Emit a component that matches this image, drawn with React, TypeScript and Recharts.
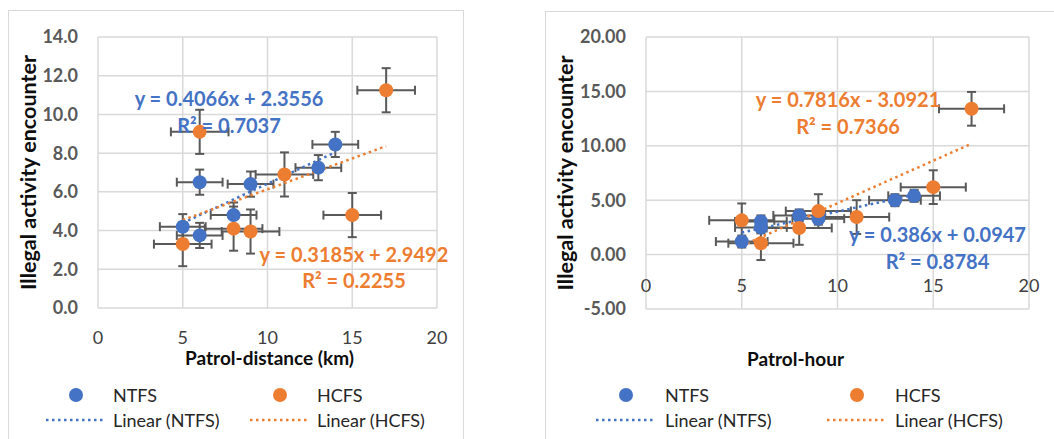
import React from 'react';
import {
  ScatterChart,
  Scatter,
  XAxis,
  YAxis,
  CartesianGrid,
  ErrorBar,
  ReferenceLine,
  ReferenceDot,
} from 'recharts';

const FONT = "Lato, 'Open Sans', 'DejaVu Sans', sans-serif";
const BLUE = '#4472C4';
const ORANGE = '#ED7D31';
const GRID = '#d9d9d9';
const ERR = '#595959';

// ---------- Chart 1: Patrol-distance ----------
const distNtfsX = [5, 6, 6, 8, 9, 13, 14];
const distNtfsY = [4.2, 3.75, 6.5, 4.8, 6.4, 7.25, 8.45];
const distHcfsX = [5, 6, 8, 9, 11, 15, 17];
const distHcfsY = [3.3, 9.1, 4.1, 3.95, 6.9, 4.8, 11.25];
const distNtfsErr = { x: 1.35, y: 0.65 };
const distHcfsErr = { x: 1.7, y: 1.14 };
const distNtfsFit = { slope: 0.4066, intercept: 2.3556, r2: '0.7037', from: 5, to: 14 };
const distHcfsFit = { slope: 0.3185, intercept: 2.9492, r2: '0.2255', from: 5, to: 17 };
const distXTicks = [0, 5, 10, 15, 20];
const distYTicks = [0, 2, 4, 6, 8, 10, 12, 14];

// ---------- Chart 2: Patrol-hour ----------
const hourNtfsX = [5, 6, 6, 8, 9, 13, 14];
const hourNtfsY = [1.2, 3.05, 2.5, 3.6, 3.3, 5.0, 5.4];
const hourHcfsX = [5, 6, 8, 9, 11, 15, 17];
const hourHcfsY = [3.15, 1.05, 2.45, 4.0, 3.45, 6.2, 13.4];
const hourNtfsErr = { x: 1.35, y: 0.55 };
const hourHcfsErr = { x: 1.7, y: 1.55 };
const hourNtfsFit = { slope: 0.386, intercept: 0.0947, r2: '0.8784', from: 5, to: 14 };
const hourHcfsFit = { slope: 0.7816, intercept: -3.0921, r2: '0.7366', from: 5, to: 17 };
const hourXTicks = [0, 5, 10, 15, 20];
const hourYTicks = [-5, 0, 5, 10, 15, 20];

const seriesNames = ['NTFS', 'HCFS'];
const trendNames = ['Linear (NTFS)', 'Linear (HCFS)'];

type Err = { x: number; y: number };
const build = (xs: number[], ys: number[], e: Err) =>
  xs.map((x, i) => ({ x, y: ys[i], ex: e.x, ey: e.y }));

type Fit = { slope: number; intercept: number; r2: string; from: number; to: number };
const segment = (f: Fit) => [
  { x: f.from, y: f.slope * f.from + f.intercept },
  { x: f.to, y: f.slope * f.to + f.intercept },
];
const eqText = (f: Fit, digits: number) => {
  const s = f.slope.toFixed(digits === 3 ? 3 : 4);
  const b = Math.abs(f.intercept).toFixed(4);
  return `y = ${s}x ${f.intercept < 0 ? '-' : '+'} ${b}`;
};

const makeDot = (color: string) => (props: any) =>
  <circle cx={props.cx} cy={props.cy} r={7} fill={color} />;

const makeXTick = (shift: number) => (props: any) => (
  <text
    x={props.x}
    y={props.y + shift}
    textAnchor="middle"
    dominantBaseline="central"
    fill="#404040"
    fontSize={18}
    fontFamily={FONT}
  >
    {props.payload.value}
  </text>
);

const yTickStyle = { fill: '#595959', fontSize: 18, fontWeight: 700, fontFamily: FONT };
const eqStyle = (color: string) => ({
  position: 'center' as const,
  fill: color,
  fontSize: 20,
  fontWeight: 700,
  fontFamily: FONT,
});

function Panel(props: {
  left: number;
  width: number;
  margin: { top: number; right: number; bottom: number; left: number };
  yAxisWidth: number;
  xTicks: number[];
  yTicks: number[];
  yDomain: [number, number];
  yDigits: number;
  xTickShift: number;
  xTitle: string;
  xTitleDx: number;
  ntfs: any[];
  hcfs: any[];
  ntfsFit: Fit;
  hcfsFit: Fit;
  ntfsEqPos: { x: number; y: number; y2: number };
  hcfsEqPos: { x: number; y: number; y2: number };
  ntfsDigits: number;
  hcfsDigits: number;
}) {
  const p = props;
  return (
    <div style={{ position: 'absolute', left: p.left, top: 0 }}>
      <ScatterChart width={p.width} height={439} margin={p.margin}>
        <CartesianGrid stroke={GRID} strokeWidth={1.5} />
        <XAxis
          type="number"
          dataKey="x"
          domain={[0, 20]}
          ticks={p.xTicks}
          axisLine={false}
          tickLine={false}
          tickSize={0}
          tickMargin={0}
          height={30}
          interval={0}
          tick={makeXTick(p.xTickShift)}
          label={{
            value: p.xTitle,
            position: 'bottom',
            offset: 14,
            dx: p.xTitleDx,
            fill: '#0d0d0d',
            fontSize: 19,
            fontWeight: 700,
            fontFamily: FONT,
          }}
        />
        <YAxis
          type="number"
          dataKey="y"
          domain={p.yDomain}
          ticks={p.yTicks}
          axisLine={false}
          tickLine={false}
          tickSize={0}
          tickMargin={20}
          width={p.yAxisWidth}
          interval={0}
          tick={yTickStyle}
          tickFormatter={(v: number) => v.toFixed(p.yDigits)}
          label={{
            value: 'Illegal activity encounter',
            angle: -90,
            position: 'insideLeft',
            offset: 20,
            style: { textAnchor: 'middle' },
            fill: '#0d0d0d',
            fontSize: 21.5,
            fontWeight: 700,
            fontFamily: FONT,
          }}
        />
        <Scatter name={seriesNames[0]} data={p.ntfs} shape={makeDot(BLUE)} isAnimationActive={false}>
          <ErrorBar dataKey="ex" direction="x" width={4.5} stroke={ERR} strokeWidth={2} />
          <ErrorBar dataKey="ey" direction="y" width={4.5} stroke={ERR} strokeWidth={2} />
        </Scatter>
        <Scatter name={seriesNames[1]} data={p.hcfs} shape={makeDot(ORANGE)} isAnimationActive={false}>
          <ErrorBar dataKey="ex" direction="x" width={4.5} stroke={ERR} strokeWidth={2} />
          <ErrorBar dataKey="ey" direction="y" width={4.5} stroke={ERR} strokeWidth={2} />
        </Scatter>
        <ReferenceLine
          segment={segment(p.ntfsFit)}
          stroke={BLUE}
          strokeWidth={2.5}
          strokeDasharray="2.5 3.5"
        />
        <ReferenceLine
          segment={segment(p.hcfsFit)}
          stroke={ORANGE}
          strokeWidth={2.5}
          strokeDasharray="2.5 3.5"
        />
        <ReferenceDot x={p.ntfsEqPos.x} y={p.ntfsEqPos.y} r={0} stroke="none" fill="none"
          label={{ value: eqText(p.ntfsFit, p.ntfsDigits), ...eqStyle(BLUE) }} />
        <ReferenceDot x={p.ntfsEqPos.x} y={p.ntfsEqPos.y2} r={0} stroke="none" fill="none"
          label={{ value: `R² = ${p.ntfsFit.r2}`, ...eqStyle(BLUE) }} />
        <ReferenceDot x={p.hcfsEqPos.x} y={p.hcfsEqPos.y} r={0} stroke="none" fill="none"
          label={{ value: eqText(p.hcfsFit, p.hcfsDigits), ...eqStyle(ORANGE) }} />
        <ReferenceDot x={p.hcfsEqPos.x} y={p.hcfsEqPos.y2} r={0} stroke="none" fill="none"
          label={{ value: `R² = ${p.hcfsFit.r2}`, ...eqStyle(ORANGE) }} />
      </ScatterChart>
    </div>
  );
}

function LegendBlock(props: { sym: [number, number]; txt: [number, number] }) {
  const colors = [BLUE, ORANGE];
  return (
    <>
      {[0, 1].map((i) => (
        <g key={i}>
          <circle cx={props.sym[i]} cy={395} r={7} fill={colors[i]} />
          <text x={props.txt[i]} y={395} dominantBaseline="central" fontSize={18} fontFamily={FONT} fill="#262626">
            {seriesNames[i]}
          </text>
          <line x1={props.sym[i] - 30} x2={props.sym[i] + 30} y1={420} y2={420}
            stroke={colors[i]} strokeWidth={2.5} strokeDasharray="2.5 3.5" />
          <text x={props.txt[i]} y={420} dominantBaseline="central" fontSize={18} fontFamily={FONT} fill="#262626">
            {trendNames[i]}
          </text>
        </g>
      ))}
    </>
  );
}

export default function App() {
  const distNtfs = build(distNtfsX, distNtfsY, distNtfsErr);
  const distHcfs = build(distHcfsX, distHcfsY, distHcfsErr);
  const hourNtfs = build(hourNtfsX, hourNtfsY, hourNtfsErr);
  const hourHcfs = build(hourHcfsX, hourHcfsY, hourHcfsErr);
  return (
    <div style={{ position: 'absolute', left: 0, top: 0, width: 1054, height: 439, overflow: 'hidden', background: '#fff' }}>
      <div style={{ position: 'absolute', left: 8, top: 10, width: 454, height: 460, border: `1.5px solid ${GRID}` }} />
      <div style={{ position: 'absolute', left: 545, top: 11, width: 540, height: 460, border: `1.5px solid ${GRID}` }} />
      <Panel
        left={0}
        width={470}
        margin={{ top: 37, right: 33, bottom: 101, left: 8 }}
        yAxisWidth={90}
        xTicks={distXTicks}
        yTicks={distYTicks}
        yDomain={[0, 14]}
        yDigits={1}
        xTickShift={29}
        xTitle="Patrol-distance  (km)"
        xTitleDx={2}
        ntfs={distNtfs}
        hcfs={distHcfs}
        ntfsFit={distNtfsFit}
        hcfsFit={distHcfsFit}
        ntfsEqPos={{ x: 7.73, y: 10.8, y2: 9.4 }}
        hcfsEqPos={{ x: 15.1, y: 2.74, y2: 1.39 }}
        ntfsDigits={4}
        hcfsDigits={4}
      />
      <Panel
        left={527}
        width={527}
        margin={{ top: 37, right: 25, bottom: 100, left: 18 }}
        yAxisWidth={101}
        xTicks={hourXTicks}
        yTicks={hourYTicks}
        yDomain={[-5, 20]}
        yDigits={2}
        xTickShift={-24}
        xTitle="Patrol-hour"
        xTitleDx={-42}
        ntfs={hourNtfs}
        hcfs={hourHcfs}
        ntfsFit={hourNtfsFit}
        hcfsFit={hourHcfsFit}
        ntfsEqPos={{ x: 15.22, y: 1.77, y2: -0.71 }}
        hcfsEqPos={{ x: 10.55, y: 14.18, y2: 11.7 }}
        ntfsDigits={3}
        hcfsDigits={4}
      />
      <svg width={1054} height={439} style={{ position: 'absolute', left: 0, top: 0, pointerEvents: 'none' }}>
        <LegendBlock sym={[76, 280]} txt={[113, 317]} />
        <LegendBlock sym={[626, 857]} txt={[665, 895]} />
      </svg>
    </div>
  );
}
